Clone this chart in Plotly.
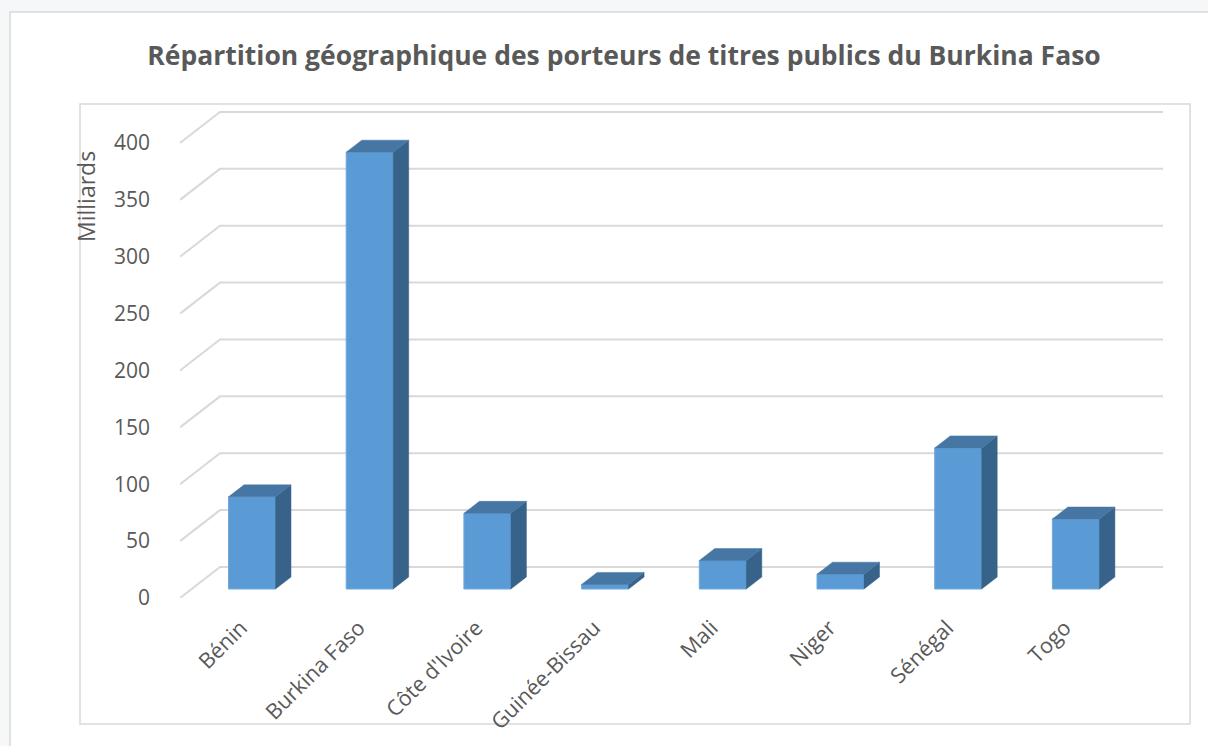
import plotly.graph_objects as go

# ---------------- data ----------------
categories = ["Bénin", "Burkina Faso", "Côte d'Ivoire", "Guinée-Bissau",
              "Mali", "Niger", "Sénégal", "Togo"]
values = [81, 384, 66.5, 4, 25, 13, 124, 61.5]
y_ticks = [0, 50, 100, 150, 200, 250, 300, 350, 400]
title_text = "Répartition géographique des porteurs de titres publics du Burkina Faso"
y_title = "Milliards"

# ---------------- geometry (pixels) ----------------
W, H = 1208, 746
PX0, PX1 = 180, 1163          # plot area left / right
PY_BOTTOM, PY_TOP = 598, 104  # plot area bottom / top
K = 1.1375                    # pixels per value unit
X_STEP = 117.7                # pixels per category
X_FIRST = 252                 # pixel centre of first category
WALL_DX, WALL_DY = 40, 31     # depth of the back wall
BAR_DX, BAR_DY = 15.5, 12     # depth of each bar
BAR_BASE_PX = 9               # bar floor above front zero line
BAR_W_PX = 47
LABEL_SHIFT_PX = -11          # category labels sit slightly left of bars

def ux(px):
    return px / X_STEP

def uy(px):
    return px / K

x_min = (PX0 - X_FIRST) / X_STEP
x_max = (PX1 - X_FIRST) / X_STEP
y_max = (PY_BOTTOM - PY_TOP) / K

idx = list(range(len(categories)))
base = uy(BAR_BASE_PX)
bw = ux(BAR_W_PX)
bdx, bdy = ux(BAR_DX), uy(BAR_DY)

FRONT = "#5B9BD5"
TOP = "#4676A3"
SIDE = "#37628A"
GRID = "#D9D9D9"
TXT = "#595959"
FONT = "Open Sans"

fig = go.Figure()

# front faces
fig.add_trace(go.Bar(
    x=idx, y=values, base=base, width=bw,
    marker=dict(color=FRONT, line=dict(color="#6FA8DC", width=1)),
    hoverinfo="skip", showlegend=False,
))

# top faces and side faces
tx, ty, sx, sy = [], [], [], []
for i, v in zip(idx, values):
    xl, xr = i - bw / 2, i + bw / 2
    top = base + v
    tx += [xl, xr, xr + bdx, xl + bdx, xl, None]
    ty += [top, top, top + bdy, top + bdy, top, None]
    sx += [xr, xr, xr + bdx, xr + bdx, xr, None]
    sy += [base, top, top + bdy, base + bdy, base, None]

fig.add_trace(go.Scatter(x=sx, y=sy, mode="lines", fill="toself",
                         fillcolor=SIDE, line=dict(color=SIDE, width=0.5),
                         hoverinfo="skip", showlegend=False))
fig.add_trace(go.Scatter(x=tx, y=ty, mode="lines", fill="toself",
                         fillcolor=TOP, line=dict(color=TOP, width=0.5),
                         hoverinfo="skip", showlegend=False))

# back-wall gridlines with oblique front edges
shapes = []
wdx, wdy = ux(WALL_DX), uy(WALL_DY)
for t in y_ticks:
    path = (f"M {x_min},{t} L {x_min + wdx},{t + wdy} "
            f"L {x_max},{t + wdy}")
    shapes.append(dict(type="path", path=path, xref="x", yref="y",
                       line=dict(color=GRID, width=2), layer="below"))

def paper_x(px):
    return (px - PX0) / (PX1 - PX0)

def paper_y(py):
    return (PY_BOTTOM - py) / (PY_BOTTOM - PY_TOP)

# outer chart frame (white card)
shapes.append(dict(type="rect", xref="paper", yref="paper",
                   x0=paper_x(10), x1=paper_x(1230),
                   y0=paper_y(770), y1=paper_y(12),
                   fillcolor="white", line=dict(color="#D9D9D9", width=1.5),
                   layer="below"))
# inner plot frame
shapes.append(dict(type="rect", xref="paper", yref="paper",
                   x0=paper_x(80), x1=paper_x(1190),
                   y0=paper_y(724), y1=paper_y(104),
                   fillcolor="rgba(0,0,0,0)",
                   line=dict(color="#D9D9D9", width=1.5),
                   layer="below"))

tick_pos = [i + ux(LABEL_SHIFT_PX) for i in idx]

fig.update_layout(
    width=W, height=H,
    margin=dict(l=PX0, r=W - PX1, t=PY_TOP, b=H - PY_BOTTOM, pad=0),
    paper_bgcolor="#F6F7F9",
    plot_bgcolor="rgba(0,0,0,0)",
    shapes=shapes,
    showlegend=False,
    bargap=0,
    font=dict(family=FONT, color=TXT, size=20),
    title=dict(text=f"<b>{title_text}</b>", x=624 / W, xanchor="center",
               y=1 - 56 / H, yanchor="middle", yref="container",
               font=dict(family=FONT, size=26.5, color=TXT)),
    xaxis=dict(range=[x_min, x_max], tickvals=tick_pos, ticktext=categories,
               tickangle=-45, showgrid=False, zeroline=False, showline=False,
               ticks="", ticklabelstandoff=12,
               tickfont=dict(family=FONT, size=21.5, color=TXT)),
    yaxis=dict(range=[0, y_max], tickvals=y_ticks, showgrid=False,
               zeroline=False, showline=False, ticks="",
               ticklabelstandoff=29,
               tickfont=dict(family=FONT, size=21, color=TXT)),
    annotations=[dict(text=y_title, textangle=-90, xref="paper", yref="paper",
                      x=paper_x(86), y=paper_y(197), xanchor="center",
                      yanchor="middle", showarrow=False,
                      font=dict(family=FONT, size=23, color=TXT))],
)

fig.write_html("out.html",
               config={"displayModeBar": False, "staticPlot": True},
               post_script="document.body.style.margin='0px';"
                           "document.body.style.overflow='hidden';")
